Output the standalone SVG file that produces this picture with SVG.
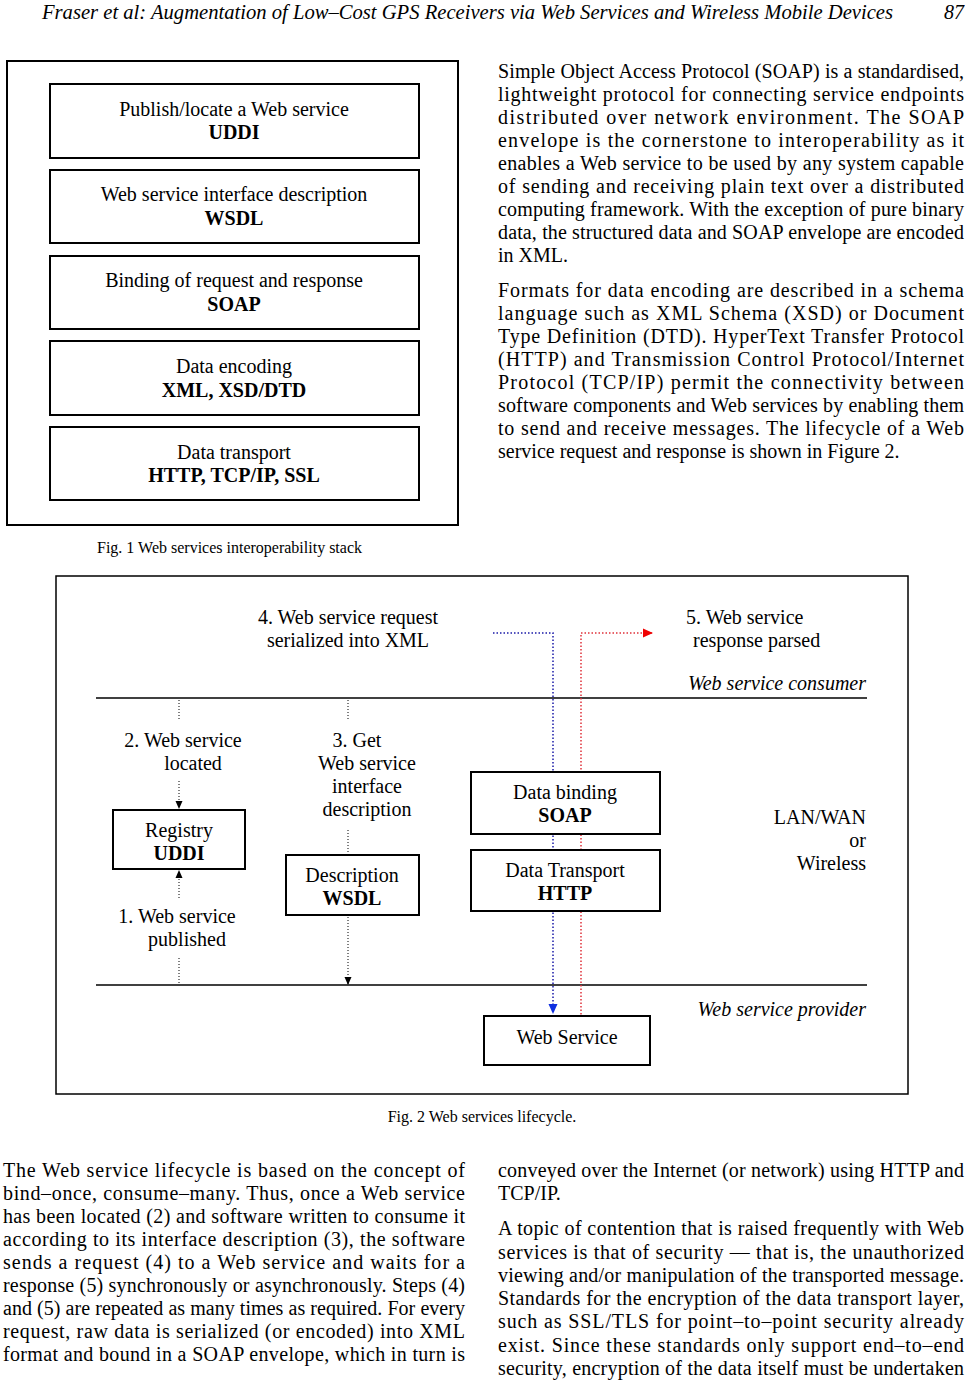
<svg xmlns="http://www.w3.org/2000/svg" width="965" height="1381" viewBox="0 0 965 1381">
<style>
text{font-family:"Liberation Serif","Times New Roman",serif;fill:#000}
.body{font-size:20px}
.hdr{font-size:20px;font-style:italic}
.d{font-size:20px;text-anchor:middle}
.b{font-weight:bold}
.r{text-anchor:end}
.it{font-style:italic}
.cap{font-size:16px}
.box{fill:#fff;stroke:#000;stroke-width:2}
.dot{fill:none;stroke:#000;stroke-width:1;stroke-dasharray:1 2}
.blue{fill:none;stroke:#1a1aa8;stroke-width:1.5;stroke-dasharray:1.5 2}
.red{fill:none;stroke:#e0303a;stroke-width:1.5;stroke-dasharray:1.5 2}
</style>
<defs>
<marker id="ab" markerWidth="8" markerHeight="8" refX="7" refY="4" orient="auto" markerUnits="userSpaceOnUse"><path d="M0,0.5 L8,4 L0,7.5 Z" fill="#000"/></marker>
<marker id="abl" markerWidth="10" markerHeight="10" refX="9" refY="5" orient="auto" markerUnits="userSpaceOnUse"><path d="M0,0.5 L10,5 L0,9.5 Z" fill="#1030e0"/></marker>
<marker id="ard" markerWidth="10" markerHeight="10" refX="9" refY="5" orient="auto" markerUnits="userSpaceOnUse"><path d="M0,0.5 L10,5 L0,9.5 Z" fill="#f00000"/></marker>
</defs>
<rect width="965" height="1381" fill="#fff"/>

<!-- header -->
<text class="hdr" x="42" y="19" textLength="851" lengthAdjust="spacingAndGlyphs">Fraser et al: Augmentation of Low–Cost GPS Receivers via Web Services and Wireless Mobile Devices</text>
<text class="hdr" x="964" y="19" text-anchor="end">87</text>

<!-- Fig 1 -->
<g id="fig1">
<rect x="7" y="61" width="451" height="464" fill="none" stroke="#000" stroke-width="2"/>
<g id="uddi"><rect class="box" x="50" y="84" width="369" height="74"/><text class="d" x="234" y="116">Publish/locate a Web service</text><text class="d b" x="234" y="139">UDDI</text></g>
<g id="wsdl"><rect class="box" x="50" y="170" width="369" height="73"/><text class="d" x="234" y="201">Web service interface description</text><text class="d b" x="234" y="225">WSDL</text></g>
<g id="soap"><rect class="box" x="50" y="256" width="369" height="73"/><text class="d" x="234" y="287">Binding of request and response</text><text class="d b" x="234" y="311">SOAP</text></g>
<g id="xml"><rect class="box" x="50" y="341" width="369" height="74"/><text class="d" x="234" y="373">Data encoding</text><text class="d b" x="234" y="397">XML, XSD/DTD</text></g>
<g id="http"><rect class="box" x="50" y="427" width="369" height="73"/><text class="d" x="234" y="459">Data transport</text><text class="d b" x="234" y="482">HTTP, TCP/IP, SSL</text></g>
<text class="cap" x="97" y="553">Fig. 1 Web services interoperability stack</text>
</g>

<!-- right column top -->
<g id="para1" class="body">
<text x="498" y="78" textLength="466" lengthAdjust="spacing">Simple Object Access Protocol (SOAP) is a standardised,</text>
<text x="498" y="101" textLength="466" lengthAdjust="spacing">lightweight protocol for connecting service endpoints</text>
<text x="498" y="124" textLength="466" lengthAdjust="spacing">distributed over network environment. The SOAP</text>
<text x="498" y="147" textLength="466" lengthAdjust="spacing">envelope is the cornerstone to interoperability as it</text>
<text x="498" y="170" textLength="466" lengthAdjust="spacing">enables a Web service to be used by any system capable</text>
<text x="498" y="193" textLength="466" lengthAdjust="spacing">of sending and receiving plain text over a distributed</text>
<text x="498" y="216" textLength="466" lengthAdjust="spacing">computing framework. With the exception of pure binary</text>
<text x="498" y="239" textLength="466" lengthAdjust="spacing">data, the structured data and SOAP envelope are encoded</text>
<text x="498" y="262">in XML.</text>
</g>
<g id="para2" class="body">
<text x="498" y="297" textLength="466" lengthAdjust="spacing">Formats for data encoding are described in a schema</text>
<text x="498" y="320" textLength="466" lengthAdjust="spacing">language such as XML Schema (XSD) or Document</text>
<text x="498" y="343" textLength="466" lengthAdjust="spacing">Type Definition (DTD). HyperText Transfer Protocol</text>
<text x="498" y="366" textLength="466" lengthAdjust="spacing">(HTTP) and Transmission Control Protocol/Internet</text>
<text x="498" y="389" textLength="466" lengthAdjust="spacing">Protocol (TCP/IP) permit the connectivity between</text>
<text x="498" y="412" textLength="466" lengthAdjust="spacing">software components and Web services by enabling them</text>
<text x="498" y="435" textLength="466" lengthAdjust="spacing">to send and receive messages. The lifecycle of a Web</text>
<text x="498" y="458">service request and response is shown in Figure 2.</text>
</g>

<!-- Fig 2 -->
<g id="fig2">
<rect x="56" y="576" width="852" height="518" fill="none" stroke="#000" stroke-width="1.5"/>
<line x1="96" y1="698" x2="867" y2="698" stroke="#000" stroke-width="1.5"/>
<line x1="96" y1="985" x2="867" y2="985" stroke="#000" stroke-width="1.5"/>

<g id="connectors">
<line class="dot" x1="179" y1="700" x2="179" y2="721"/>
<line class="dot" x1="348" y1="700" x2="348" y2="721"/>
<line class="dot" x1="179" y1="781" x2="179" y2="808" marker-end="url(#ab)"/>
<line class="dot" x1="179" y1="898" x2="179" y2="871" marker-end="url(#ab)"/>
<line class="dot" x1="179" y1="958" x2="179" y2="984"/>
<line class="dot" x1="348" y1="830" x2="348" y2="854"/>
<line class="dot" x1="348" y1="917" x2="348" y2="984" marker-end="url(#ab)"/>
<polyline class="blue" points="493,633 553,633 553,1013" marker-end="url(#abl)"/>
<polyline class="red" points="581,1025 581,633 652,633" marker-end="url(#ard)"/>
</g>

<g id="lbl4"><text class="d" x="348" y="624">4. Web service request</text><text class="d" x="348" y="647">serialized into XML</text></g>
<g id="lbl5"><text class="body" x="686" y="624">5. Web service</text><text class="body" x="693" y="647">response parsed</text></g>
<text class="body r it" x="866" y="690">Web service consumer</text>
<g id="lbl2"><text class="d" x="183" y="747">2. Web service</text><text class="d" x="193" y="770">located</text></g>
<g id="lbl3"><text class="d" x="357" y="747">3. Get</text><text class="d" x="367" y="770">Web service</text><text class="d" x="367" y="793">interface</text><text class="d" x="367" y="816">description</text></g>
<g id="registry"><rect class="box" x="113" y="810" width="132" height="59"/><text class="d" x="179" y="837">Registry</text><text class="d b" x="179" y="860">UDDI</text></g>
<g id="lbl1"><text class="d" x="177" y="923">1. Web service</text><text class="d" x="187" y="946">published</text></g>
<g id="description"><rect class="box" x="286" y="855" width="133" height="60"/><text class="d" x="352" y="882">Description</text><text class="d b" x="352" y="905">WSDL</text></g>
<g id="binding"><rect class="box" x="471" y="772" width="189" height="62"/><text class="d" x="565" y="799">Data binding</text><text class="d b" x="565" y="822">SOAP</text></g>
<g id="transport"><rect class="box" x="471" y="850" width="189" height="61"/><text class="d" x="565" y="877">Data Transport</text><text class="d b" x="565" y="900">HTTP</text></g>
<g id="lan"><text class="body r" x="866" y="824">LAN/WAN</text><text class="body r" x="866" y="847">or</text><text class="body r" x="866" y="870">Wireless</text></g>
<text class="body r it" x="866" y="1016">Web service provider</text>
<g id="webservice"><rect class="box" x="484" y="1016" width="166" height="49"/><text class="d" x="567" y="1044">Web Service</text></g>
<text class="cap" x="482" y="1122" text-anchor="middle">Fig. 2 Web services lifecycle.</text>
</g>

<!-- bottom text -->
<g id="para3" class="body">
<text x="3" y="1177" textLength="462" lengthAdjust="spacing">The Web service lifecycle is based on the concept of</text>
<text x="3" y="1200" textLength="462" lengthAdjust="spacing">bind–once, consume–many. Thus, once a Web service</text>
<text x="3" y="1223" textLength="462" lengthAdjust="spacing">has been located (2) and software written to consume it</text>
<text x="3" y="1246" textLength="462" lengthAdjust="spacing">according to its interface description (3), the software</text>
<text x="3" y="1269" textLength="462" lengthAdjust="spacing">sends a request (4) to a Web service and waits for a</text>
<text x="3" y="1292" textLength="462" lengthAdjust="spacing">response (5) synchronously or asynchronously. Steps (4)</text>
<text x="3" y="1315" textLength="462" lengthAdjust="spacing">and (5) are repeated as many times as required. For every</text>
<text x="3" y="1338" textLength="462" lengthAdjust="spacing">request, raw data is serialized (or encoded) into XML</text>
<text x="3" y="1361" textLength="462" lengthAdjust="spacing">format and bound in a SOAP envelope, which in turn is</text>
</g>
<g id="para4" class="body">
<text x="498" y="1177" textLength="466" lengthAdjust="spacing">conveyed over the Internet (or network) using HTTP and</text>
<text x="498" y="1200">TCP/IP.</text>
<text x="498" y="1235" textLength="466" lengthAdjust="spacing">A topic of contention that is raised frequently with Web</text>
<text x="498" y="1259" textLength="466" lengthAdjust="spacing">services is that of security — that is, the unauthorized</text>
<text x="498" y="1282" textLength="466" lengthAdjust="spacing">viewing and/or manipulation of the transported message.</text>
<text x="498" y="1305" textLength="466" lengthAdjust="spacing">Standards for the encryption of the data transport layer,</text>
<text x="498" y="1328" textLength="466" lengthAdjust="spacing">such as SSL/TLS for point–to–point security already</text>
<text x="498" y="1352" textLength="466" lengthAdjust="spacing">exist. Since these standards only support end–to–end</text>
<text x="498" y="1375" textLength="466" lengthAdjust="spacing">security, encryption of the data itself must be undertaken</text>
</g>
</svg>
